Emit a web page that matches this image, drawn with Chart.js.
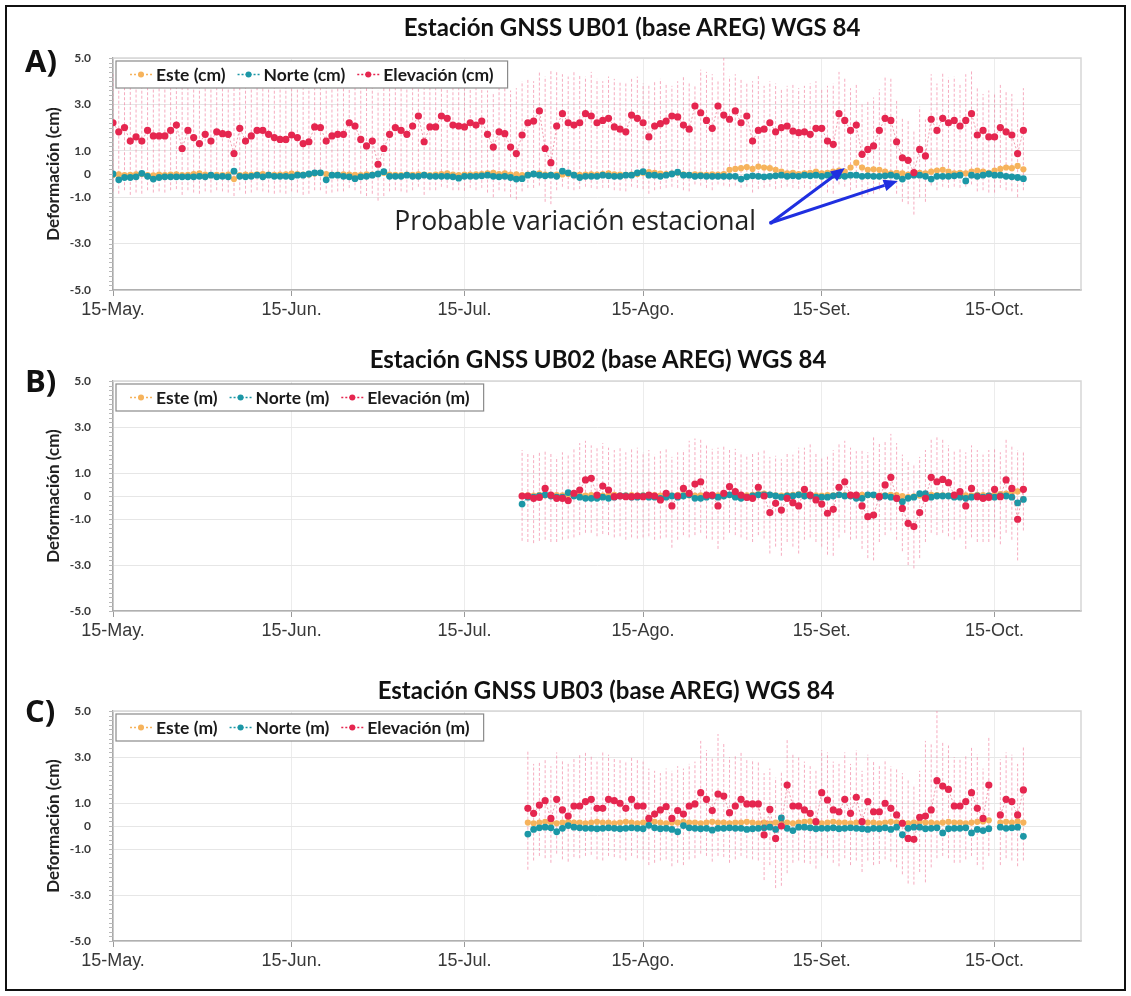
<!DOCTYPE html>
<html>
<head>
<meta charset="utf-8">
<script src="https://cdn.jsdelivr.net/npm/chart.js@4.4.1/dist/chart.umd.min.js"></script>
<style>
  body { margin: 0; background: #fff; }
  #fig { position: relative; width: 1131px; height: 996px; background: #fff; overflow: hidden; }
  #fig canvas { position: absolute; left: 0; }
  #frame { position: absolute; left: 5px; top: 5px; width: 1121px; height: 986px; border: 2px solid #111; box-sizing: border-box; pointer-events: none; }
  .ttl { position: absolute; transform: translateX(-50%); white-space: nowrap; font-family: Lato, sans-serif; font-weight: 700; font-size: 24px; line-height: 1; color: #111; }
  .pl { position: absolute; font-family: "Open Sans", sans-serif; font-weight: 700; font-size: 31px; line-height: 1; color: #111; }
</style>
</head>
<body>
<div id="fig">
  <canvas id="cA" width="1131" height="330" style="top:0px"></canvas>
  <canvas id="cB" width="1131" height="330" style="top:323px"></canvas>
  <canvas id="cC" width="1131" height="330" style="top:653px"></canvas>
  <div class="ttl" style="left:632px;top:15px">Estación GNSS UB01 (base AREG) WGS 84</div>
  <div class="ttl" style="left:598px;top:347px">Estación GNSS UB02 (base AREG) WGS 84</div>
  <div class="ttl" style="left:606px;top:678px">Estación GNSS UB03 (base AREG) WGS 84</div>
  <div class="pl" style="left:25px;top:45px">A)</div>
  <div class="pl" style="left:25px;top:365px">B)</div>
  <div class="pl" style="left:25px;top:695px">C)</div>
  <div id="frame"></div>
</div>
<script>
// x axis = days after 15-May
const tickDays = [0, 31, 61, 92, 123, 153];
const tickLabels = ['15-May.', '15-Jun.', '15-Jul.', '15-Ago.', '15-Set.', '15-Oct.'];
const yTicks = [5, 3, 1, 0, -1, -3, -5];

// ---- UB01 (daily from 15-May) ----
const startA = 0;
const elevA = [
  2.21, 1.82, 2.0, 1.42, 1.6, 1.42, 1.88, 1.64, 1.64, 1.64,
  1.88, 2.11, 1.1, 1.88, 1.57, 1.31, 1.71, 1.42, 1.82, 1.74,
  1.71, 0.88, 1.97, 1.42, 1.64, 1.88, 1.88, 1.71, 1.57, 1.49,
  1.49, 1.68, 1.57, 1.31, 1.39, 2.03, 2.0, 1.42, 1.64, 1.71,
  1.71, 2.21, 2.07, 1.49, 1.21, 1.42, 0.42, 1.1, 1.71, 2.0,
  1.88, 1.71, 2.07, 2.5, 1.39, 2.03, 2.03, 2.5, 2.4, 2.11,
  2.07, 2.03,
  2.21, 2.11, 2.28, 1.71, 1.16, 1.82, 1.74, 1.16, 0.88, 1.68,
  2.21, 2.28, 2.72, 1.1, 0.49, 2.07, 2.6, 2.21, 2.11, 2.21,
  2.6, 2.5, 2.21, 2.31, 2.4, 2.03, 1.93, 1.82, 2.54, 2.4,
  2.21, 1.6, 2.07, 2.17, 2.28, 2.5, 2.46, 2.11, 1.93, 2.93,
  2.64, 2.31, 1.97, 2.93, 2.54, 2.36, 2.72, 2.21, 2.5, 1.42,
  1.88, 1.93, 2.21, 1.82, 2.0, 2.07, 1.85, 1.78, 1.82, 1.71,
  1.97, 1.97, 1.42, 1.28,
  2.6, 2.31, 1.88, 2.11, 0.85, 1.06, 1.21, 1.88, 2.4, 2.31,
  1.39, 0.7, 0.59, 0.06, 1.06, 0.78, 2.36, 1.88, 2.4, 2.21,
  2.31, 2.07, 2.31, 2.6, 1.68, 1.88, 1.6, 1.6, 2.0, 1.82,
  1.68, 0.88, 1.88
];
const elevHiA = [
  4.3, 4.2, 4.4, 4.1, 4.2, 4.3, 4.0, 4.2, 4.4, 4.1,
  4.3, 4.2, 4.0, 4.3, 4.2, 4.1, 4.4, 4.2, 4.3, 4.0,
  4.1, 3.9, 4.3, 4.2, 4.1, 4.4, 4.2, 4.3, 4.0, 4.2,
  4.1, 4.3, 4.2, 4.0, 4.1, 4.4, 4.3, 4.1, 4.2, 4.2,
  4.0, 4.4, 4.3, 4.1, 3.9, 4.0, 3.6, 3.8, 4.2, 4.3,
  4.2, 4.1, 4.3, 4.5, 4.0, 4.3, 4.2, 4.5, 4.4, 4.2,
  4.1, 4.0,
  3.7, 3.8, 3.7, 3.6, 3.5, 3.8, 3.9, 3.6, 3.7, 4.0,
  4.1, 4.0, 4.4, 4.2, 4.5, 4.4, 4.3, 4.2, 4.4, 4.3,
  4.2, 4.4, 4.1, 4.0, 4.2, 4.1, 4.0, 3.9, 4.1, 4.2,
  3.9, 3.8, 4.0, 4.1, 3.9, 3.8, 4.0, 4.2, 3.9, 3.8,
  4.5, 4.4, 4.3, 4.0, 5.0, 4.2, 4.3, 4.1, 3.9, 4.0,
  4.3, 3.8, 4.0, 3.9, 3.7, 3.8, 3.9, 3.7, 3.8, 3.9,
  4.0, 3.7, 3.8, 3.9,
  4.4, 4.15, 3.7, 3.9, 3.0, 3.15, 3.3, 3.65, 4.2, 4.15,
  3.15, 2.4, 2.3, 1.9, 2.9, 2.35, 4.3, 3.9, 4.4, 4.15,
  4.2, 3.9, 4.3, 4.45, 3.7, 3.45, 3.6, 3.45, 3.9, 3.6,
  3.45, 2.85, 3.7
];
const elevLoA = [
  -0.75, -0.85, -0.7, -0.9, -0.8, -0.85, -0.7, -0.8, -0.75, -0.8,
  -0.7, -0.65, -0.9, -0.7, -0.8, -0.85, -0.75, -0.8, -0.7, -0.75,
  -0.8, -0.95, -0.7, -0.85, -0.8, -0.7, -0.75, -0.8, -0.85, -0.8,
  -0.85, -0.75, -0.8, -0.9, -0.85, -0.7, -0.7, -0.85, -0.8, -0.75,
  -0.75, -0.6, -0.7, -0.85, -0.95, -0.85, -1.15, -0.95, -0.75, -0.7,
  -0.75, -0.8, -0.7, -0.55, -0.9, -0.7, -0.7, -0.55, -0.6, -0.7,
  -0.7, -0.72,
  -0.6, -0.7, -0.6, -0.8, -1.0, -0.7, -0.75, -1.0, -1.1, -0.75,
  -0.6, -0.6, -0.5, -1.2, -1.3, -0.7, -0.55, -0.65, -0.7, -0.65,
  -0.55, -0.6, -0.65, -0.6, -0.6, -0.7, -0.72, -0.75, -0.55, -0.6,
  -0.65, -0.85, -0.7, -0.65, -0.6, -0.55, -0.6, -0.7, -0.75, -0.45,
  -0.5, -0.6, -0.7, -0.45, -0.5, -0.55, -0.5, -0.6, -0.55, -0.8,
  -0.65, -0.6, -0.55, -0.65, -0.6, -0.55, -0.6, -0.65, -0.6, -0.65,
  -0.6, -0.6, -0.8, -0.85,
  -0.45, -0.55, -0.7, -0.6, -1.0, -0.9, -0.85, -0.7, -0.5, -0.55,
  -0.85, -1.2, -1.3, -1.75, -1.0, -1.2, -0.5, -0.7, -0.55, -0.6,
  -0.55, -0.6, -0.55, -0.45, -0.75, -0.7, -0.8, -0.8, -0.6, -0.7,
  -0.75, -1.0, -0.7
];
const norteA = [
  0.0, -0.25, -0.15, -0.15, -0.12, 0.03, -0.1, -0.22, -0.15, -0.12,
  -0.12, -0.12, -0.12, -0.12, -0.12, -0.1, -0.12, -0.05, -0.12, -0.1,
  -0.12, 0.12, -0.1, -0.12, -0.1, -0.05, -0.12, -0.05, -0.1, -0.1,
  -0.1, -0.12, -0.05, -0.05, 0.0, 0.05, 0.05, -0.25, -0.05, -0.05,
  -0.1, -0.12, -0.2, -0.12, -0.1, -0.05, 0.0, 0.1, -0.1, -0.1,
  -0.1, -0.05, -0.1, -0.1, -0.05, -0.1, -0.1, -0.1, -0.1, -0.12,
  -0.18, -0.1,
  -0.1, -0.1, -0.08, -0.05, -0.1, -0.12, -0.1, -0.15, -0.22, -0.2,
  -0.05, 0.0, -0.05, -0.08, -0.05, -0.1, 0.12, 0.05, -0.05, -0.15,
  -0.1, -0.1, -0.1, -0.05, -0.08, -0.1, -0.1, -0.05, -0.05, 0.05,
  0.1, -0.05, -0.05, -0.1, -0.05, 0.0, 0.08, -0.05, -0.05, -0.1,
  -0.08, -0.1, -0.1, -0.1, -0.1, -0.1, -0.1, -0.22, -0.12, -0.08,
  -0.1, -0.12, -0.1, -0.08, -0.05, -0.1, -0.08, -0.1, -0.05, -0.08,
  -0.05, -0.1, -0.05, -0.05,
  -0.08, -0.1, -0.05, -0.05, -0.1, -0.08, -0.1, -0.1, -0.08, -0.05,
  -0.1, -0.22, -0.1, -0.05, -0.05, -0.1, -0.22, -0.1, -0.1, -0.1,
  -0.08, -0.05, -0.3, -0.05, -0.1, -0.05, 0.0, -0.05, -0.05, -0.1,
  -0.12, -0.15, -0.2
];
const esteA = [
  -0.04, -0.02, -0.05, -0.04, -0.02, 0.0, -0.05, -0.06, -0.03, -0.05,
  -0.03, -0.02, -0.05, -0.04, 0.0, 0.03, -0.03, -0.05, -0.04, -0.05,
  -0.03, -0.22,
  -0.05, -0.03, -0.04, -0.02, 0.0, -0.03, -0.04, -0.03, -0.02, 0.02,
  0.0, -0.03, -0.02, 0.02, 0.05, 0.0, -0.04, -0.03, -0.02,
  -0.03, -0.04, -0.05, -0.02, -0.03, 0.0, 0.05, -0.03, -0.04, -0.05,
  -0.03, -0.04, -0.02, -0.03, -0.05, -0.03, 0.0, 0.03, -0.03, -0.05, -0.03,
  -0.03, -0.02, 0.0, 0.03, 0.05, 0.0, 0.03, -0.03, -0.02, -0.05,
  -0.03, 0.0, 0.03, -0.03, -0.04, -0.03, -0.02, 0.0, -0.03, -0.04,
  -0.03, -0.02, -0.03, 0.0, 0.03, -0.02, -0.03, -0.04, -0.03, 0.0,
  0.05, 0.08, 0.05, 0.02, 0.0, 0.02, 0.05, -0.02, -0.04, -0.02,
  -0.03, -0.04, -0.02, -0.03, 0.0,
  0.18, 0.22, 0.25, 0.3, 0.22, 0.32, 0.28, 0.25, 0.18, 0.1,
  0.03, 0.05, 0.0, 0.03, 0.05, 0.1, 0.03, 0.05, 0.1,
  0.15, 0.1, 0.28, 0.49, 0.28, 0.18, 0.2, 0.18, 0.1, 0.03,
  0.05, 0.03, -0.03, 0.0, 0.05, 0.03, 0.1, 0.15, 0.18, 0.1,
  0.03, 0.05, 0.03, 0.1, 0.15, 0.1, 0.05, 0.15, 0.22, 0.28,
  0.25, 0.35, 0.2
];

// ---- UB02 (daily from 24-Jul) ----
const startB = 71;
const elevB = [
  0, 0, -0.1, -0.06, 0.33, 0.04, -0.1, -0.1, -0.2, 0.12,
  0.26, 0.7, 0.77, 0.04, 0.43, 0.26, -0.03, 0, -0.03, -0.03,
  0, -0.03, 0.04, 0, -0.17, 0.12, -0.43, 0, 0.33, 0.12,
  0.52, 0.62, 0.04, 0.04, -0.43, 0.12, 0.41, 0.19, 0.04, -0.06,
  -0.1, 0.38, 0, -0.72, -0.32, -0.61, -0.1, -0.29, -0.43, 0.29,
  0.04, -0.17, -0.35, -0.75, -0.58, 0.38, 0.62, 0.04, 0.04, -0.43,
  -0.9, -0.83, -0.03, 0.48, 0.81, -0.1, -0.54, -1.19, -1.33, -0.72,
  -0.1, 0.81, 0.62, 0.72, 0.58, 0.04, 0.19, -0.43, 0.33, -0.03,
  -0.1, -0.06, 0.29, -0.03, 0.7, 0.33, -1.01, 0.29
];
const elevHiB = [
  2.0, 1.9, 1.8, 1.95, 2.0, 1.85, 1.7, 1.9, 1.8, 2.1,
  2.3, 2.4, 2.2, 2.15, 2.3, 2.1, 2.0, 2.1, 1.9, 2.05,
  2.1, 1.9, 2.0, 1.8, 1.95, 2.1, 1.7, 1.9, 2.0, 2.4,
  2.5, 2.5, 2.2, 2.05, 2.1, 2.2, 2.0, 2.05, 1.9, 1.8,
  1.85, 1.9, 2.0, 1.7, 1.75, 1.6, 1.9, 1.8, 2.1, 2.1,
  2.25, 1.9, 1.7, 1.8, 2.0, 2.3, 2.4, 2.1, 1.95, 2.0,
  1.9, 2.6, 2.3, 2.4, 2.7, 2.3, 1.8, 1.5, 1.4, 1.7,
  2.0, 2.5, 2.55, 2.45, 2.2, 2.0, 2.1, 1.9, 2.2, 2.0,
  1.8, 2.0, 2.1, 1.9, 2.5, 2.2, 2.0, 1.9
];
const elevLoB = [
  -1.95, -2.0, -2.05, -1.95, -1.9, -2.0, -2.0, -1.9, -1.85, -1.8,
  -1.7, -1.6, -1.6, -1.75, -1.65, -1.7, -1.8, -1.75, -1.9, -1.8,
  -1.85, -1.8, -1.75, -1.9, -1.85, -1.8, -2.25, -1.9, -1.7, -1.8,
  -1.7, -1.6, -1.85, -1.9, -2.3, -1.9, -1.6, -1.7, -1.8, -1.9,
  -2.0, -1.7, -1.85, -2.5, -2.2, -2.6, -2.0, -2.2, -2.5, -1.9,
  -1.8, -2.0, -2.2, -2.55, -2.6, -1.8, -1.6, -1.9, -1.85, -2.3,
  -2.7, -2.8, -2.0, -1.7, -1.5, -1.9, -2.4, -3.0, -3.15, -2.7,
  -2.0, -1.6, -1.7, -1.6, -1.75, -1.9, -1.8, -2.3, -1.8, -2.0,
  -2.0, -2.0, -1.8, -2.1, -1.6, -1.9, -2.8, -1.5
];
const norteB = [
  -0.35, -0.05, -0.05, 0.0, 0.05, 0.0, -0.05, -0.05, 0.15, 0.0,
  -0.05, -0.1, -0.1, -0.1, -0.05, -0.1, -0.05, 0.0, 0.0, -0.05,
  -0.05, 0.0, -0.05, -0.05, -0.1, -0.05, 0.0, -0.05, 0.0, 0.05,
  -0.1, -0.1, -0.05, 0.0, -0.05, 0.0, 0.05, -0.05, -0.1, -0.05,
  0.0, 0.05, 0.05, 0.05, 0.0, -0.05, 0.0, 0.0, 0.05, 0.0,
  0.0, -0.05, -0.05, -0.05, 0.0, 0.05, 0.0, 0.0, -0.1, -0.1,
  0.05, 0.05, -0.05, 0.0, -0.05, -0.1, -0.25, -0.1, -0.05, 0.1,
  0.1, -0.05, 0.0, 0.0, 0.0, -0.05, -0.05, -0.1, -0.05, 0.0,
  -0.05, 0.0, -0.05, 0.0, 0.0, -0.05, -0.3, -0.15
];
const esteB = [
  0.02, 0.03, 0.02, 0.05, 0.03, 0.02, 0.04, 0.03, 0.05, 0.02,
  0.03, 0.02, 0.04, 0.03, 0.02, 0.03, 0.05, 0.02, 0.03, 0.04,
  0.02, 0.03, 0.05, 0.04, 0.02, 0.03, 0.02, 0.04, 0.05, 0.03,
  0.02, 0.03, 0.04, 0.02, 0.03, 0.05, 0.04, 0.03, 0.02, 0.03,
  0.05, 0.08, 0.1, 0.05, 0.03, 0.02, 0.04, 0.05, 0.08, 0.1,
  0.05, 0.03, 0.02, 0.04, 0.03, 0.05, 0.04, 0.02, 0.03, 0.05,
  0.04, 0.03, 0.02, 0.03, 0.05, 0.04, 0.0, -0.05, -0.02, 0.02,
  0.03, 0.05, 0.04, 0.03, 0.02, 0.04, 0.05, 0.03, 0.02, 0.05,
  0.04, 0.03, 0.05, 0.08, 0.1, 0.15, 0.2, 0.3
];

// ---- UB03 (daily from 25-Jul, one missing day) ----
const startC = 72;
const elevC = [
  0.77, 0.55, 0.91, 1.1, 0.33, 1.16, 0.7, 0.43, 0.87, 0.87,
  1.06, 1.16, 0.77, 0.77, 1.16, 1.1, 0.99, 0.77, 1.16, 0.87,
  0.87, 0.33, 0.52, 0.7, 0.84, 0.33, 0.67, 0.52, 0.87, 0.96,
  1.45, 1.16, 0.67, 1.39, 1.3, 0.58, 0.87, 1.16, 0.96, 0.96,
  0.96, -0.39, 0.72, -0.54, 0.0, 1.78, 0.87, 0.87, 0.7, 0.55,
  0.19, 1.45, 1.13, 0.7, 0.62, 1.16, 0.55, 1.25, 0.19, 1.06,
  0.62, 0.62, 0.99, 0.77, 0.48, 0.12, -0.54, -0.58, 0.38, 0.43,
  0.7, 1.97, 1.74, 1.59, 0.87, 0.87, 1.06, 1.45, 0.77, 0.33,
  1.78, null, 0.48, 1.16, 1.06, 0.48, 1.57
];
const elevHiC = [
  3.3, 2.7, 2.8, 2.9, 2.6, 3.2, 2.9, 2.7, 3.0, 3.1,
  3.2, 3.1, 2.8, 3.2, 3.1, 3.0, 2.9, 2.8, 3.0, 2.9,
  2.8, 2.5, 2.4, 2.3, 2.5, 2.4, 2.6, 2.5, 2.7, 2.8,
  3.7, 3.3, 3.0, 4.0, 3.6, 3.0, 3.1, 3.2, 2.9, 2.9,
  2.8, 2.3, 2.5, 2.1, 2.4, 3.8, 3.1, 3.0, 2.8, 2.6,
  2.4, 3.3, 3.2, 2.8, 2.7, 3.2, 2.7, 3.3, 2.4, 3.1,
  2.8, 2.6, 2.9, 2.6, 2.5, 2.3, 2.0, 1.8, 2.4, 3.7,
  3.6, 5.0, 3.7, 3.5, 3.0, 2.9, 3.1, 3.4, 3.1, 2.5,
  3.9, null, 2.9, 3.2, 3.1, 2.7, 3.5
];
const elevLoC = [
  -1.9, -1.5, -1.3, -1.4, -1.6, -1.2, -1.45, -1.55, -1.35, -1.4,
  -1.3, -1.25, -1.45, -1.5, -1.3, -1.35, -1.4, -1.5, -1.3, -1.4,
  -1.45, -1.7, -1.6, -1.5, -1.45, -1.75, -1.6, -1.7, -1.45, -1.4,
  -1.2, -1.3, -1.55, -1.3, -1.35, -1.6, -1.45, -1.3, -1.4, -1.45,
  -1.5, -2.35, -1.7, -2.7, -2.6, -2.05, -1.6, -1.5, -1.6, -1.65,
  -1.85, -1.3, -1.4, -1.6, -1.75, -1.4, -1.7, -1.5, -2.0, -1.5,
  -1.7, -1.65, -1.45, -1.55, -1.8, -2.1, -2.5, -2.55, -2.0, -2.45,
  -1.8, -1.4, -1.3, -1.4, -1.6, -1.6, -1.45, -1.3, -1.7, -1.9,
  -1.3, null, -1.7, -1.4, -1.5, -1.75, -1.5
];
const norteC = [
  -0.35, -0.15, -0.08, -0.05, -0.08, -0.25, -0.1, 0.02, -0.05, -0.08,
  -0.1, -0.1, -0.12, -0.1, -0.08, -0.1, -0.12, -0.1, -0.08, -0.1,
  -0.12, 0.03, -0.08, -0.12, -0.1, -0.15, -0.25, 0.02, -0.08, -0.1,
  -0.12, -0.1, -0.18, -0.1, -0.1, -0.08, -0.1, -0.1, -0.15, -0.12,
  -0.1, -0.08, -0.05, -0.15, 0.35, -0.1, -0.2, -0.05, -0.05, -0.08,
  -0.12, -0.1, -0.1, -0.08, -0.12, -0.1, -0.08, -0.1, -0.12, -0.15,
  -0.1, -0.12, -0.08, -0.15, -0.05, -0.38, -0.1, -0.05, -0.05, -0.12,
  -0.1, -0.08, -0.3, -0.12, -0.1, -0.1, -0.08, -0.3, -0.15, -0.2,
  -0.12, null, -0.05, -0.1, -0.08, -0.05, -0.45
];
const esteC = [
  0.15, 0.12, 0.15, 0.18, 0.15, 0.12, 0.15, 0.18, 0.15, 0.15,
  0.12, 0.15, 0.18, 0.15, 0.15, 0.12, 0.15, 0.18, 0.15, 0.12,
  0.15, 0.15, 0.18, 0.15, 0.12, 0.15, 0.15, 0.18, 0.15, 0.15,
  0.12, 0.15, 0.18, 0.15, 0.15, 0.12, 0.15, 0.15, 0.18, 0.15,
  0.12, 0.15, 0.1, 0.15, 0.18, 0.15, 0.12, 0.15, 0.18, 0.2,
  0.15, 0.12, 0.15, 0.18, 0.15, 0.15, 0.12, 0.15, 0.18, 0.15,
  0.15, 0.12, 0.15, 0.18, 0.15, 0.15, 0.12, 0.15, 0.18, 0.15,
  0.15, 0.12, 0.15, 0.18, 0.15, 0.15, 0.12, 0.15, 0.18, 0.2,
  0.25, null, 0.15, 0.18, 0.15, 0.2, 0.15
];

// annotation on UB01 (data coordinates)
const noteText = 'Probable variación estacional';
const noteAt = [111.6, -2.1];
const arrowTail = [114.2, -2.1];
const arrowTips = [[127, 0.26], [136.2, -0.3]];

const colEste = '#f6b35c';
const colNorte = '#1c97a6';
const colElev = '#e5264f';

function pts(start, vals) {
  return vals.map((v, i) => ({ x: start + i, y: v }));
}

function bars(start, lo, hi) {
  const out = [];
  lo.forEach((v, i) => {
    if (v == null) return;
    out.push({ x: start + i, y: v }, { x: start + i, y: hi[i] }, { x: start + i, y: null });
  });
  return out;
}

function series(label, color, lineColor, data, radius, order) {
  return {
    label, data, order,
    borderColor: lineColor,
    borderWidth: 1,
    borderDash: [2, 2],
    pointRadius: radius,
    pointBackgroundColor: color,
    pointBorderWidth: 0,
    legendColor: color,
    spanGaps: false
  };
}

function drawLegend(chart) {
  const { ctx, chartArea: a } = chart;
  const items = chart.data.datasets.filter(d => d.label);
  ctx.save();
  ctx.font = 'bold 17.5px Lato';
  const widths = items.map(d => ctx.measureText(d.label).width);
  const boxW = 14 + widths.reduce((s, w) => s + 22 + 4 + w + 12, 0) + 2;
  const bx = a.left + 3, by = a.top + 3, bh = 27;
  ctx.fillStyle = '#fff';
  ctx.fillRect(bx, by, boxW, bh);
  ctx.strokeStyle = '#8a8a8a';
  ctx.lineWidth = 1.2;
  ctx.strokeRect(bx, by, boxW, bh);
  let x = bx + 14;
  const cy = by + bh / 2;
  items.forEach((d, i) => {
    ctx.setLineDash([2, 2]);
    ctx.strokeStyle = d.legendColor;
    ctx.lineWidth = 1.5;
    ctx.beginPath();
    ctx.moveTo(x, cy);
    ctx.lineTo(x + 22, cy);
    ctx.stroke();
    ctx.setLineDash([]);
    ctx.fillStyle = d.legendColor;
    ctx.beginPath();
    ctx.arc(x + 11, cy, 3, 0, Math.PI * 2);
    ctx.fill();
    ctx.fillStyle = '#1a1a1a';
    ctx.textBaseline = 'middle';
    ctx.fillText(d.label, x + 26, cy + 1);
    x += 26 + widths[i] + 12;
  });
  ctx.restore();
}

function drawNote(chart) {
  const { ctx, scales: { x, y } } = chart;
  ctx.save();
  ctx.font = '26.5px "Open Sans"';
  ctx.fillStyle = '#222';
  ctx.textAlign = 'right';
  ctx.textBaseline = 'middle';
  ctx.fillText(noteText, x.getPixelForValue(noteAt[0]), y.getPixelForValue(noteAt[1]));
  const tx = x.getPixelForValue(arrowTail[0]), ty = y.getPixelForValue(arrowTail[1]);
  ctx.strokeStyle = '#1f2fe0';
  ctx.fillStyle = '#1f2fe0';
  ctx.lineWidth = 3;
  arrowTips.forEach(([dx, dy]) => {
    const hx = x.getPixelForValue(dx), hy = y.getPixelForValue(dy);
    const ang = Math.atan2(hy - ty, hx - tx);
    const len = 14, half = 6;
    const bxp = hx - len * Math.cos(ang), byp = hy - len * Math.sin(ang);
    ctx.beginPath();
    ctx.moveTo(tx, ty);
    ctx.lineTo(bxp, byp);
    ctx.stroke();
    ctx.beginPath();
    ctx.moveTo(hx, hy);
    ctx.lineTo(bxp + half * Math.sin(ang), byp - half * Math.cos(ang));
    ctx.lineTo(bxp - half * Math.sin(ang), byp + half * Math.cos(ang));
    ctx.closePath();
    ctx.fill();
  });
  ctx.beginPath();
  ctx.arc(tx, ty, 2, 0, Math.PI * 2);
  ctx.fill();
  ctx.restore();
}

const decoPlugin = {
  id: 'deco',
  beforeDatasetsDraw(chart) {
    const { ctx, chartArea: a, scales: { y } } = chart;
    ctx.save();
    ctx.strokeStyle = '#d6d6d6';
    ctx.lineWidth = 1.5;
    ctx.beginPath();
    ctx.moveTo(a.left, a.top);
    ctx.lineTo(a.right, a.top);
    ctx.lineTo(a.right, a.bottom);
    ctx.stroke();
    ctx.strokeStyle = '#b8b8b8';
    ctx.lineWidth = 1;
    for (let i = -25; i <= 25; i++) {
      const py = Math.round(y.getPixelForValue(i / 5)) + 0.5;
      ctx.beginPath();
      ctx.moveTo(a.left - 4, py);
      ctx.lineTo(a.left, py);
      ctx.stroke();
    }
    ctx.restore();
  },
  afterDatasetsDraw(chart, args, opts) {
    drawLegend(chart);
    if (opts.note) drawNote(chart);
  }
};

function makePanel(id, unit, start, este, norte, elev, lo, hi, xh, note) {
  new Chart(document.getElementById(id), {
    type: 'line',
    data: {
      datasets: [
        series('Este (' + unit + ')', colEste, 'rgba(246,179,92,0.6)', pts(start, este), 3.1, 3),
        series('Norte (' + unit + ')', colNorte, 'rgba(28,151,166,0.5)', pts(start, norte), 3.4, 2),
        series('Elevación (' + unit + ')', colElev, 'rgba(229,38,79,0.45)', pts(start, elev), 3.6, 1),
        {
          label: '', data: bars(start, lo, hi), order: 4,
          borderColor: 'rgba(242,132,162,0.68)', borderWidth: 1, borderDash: [3, 2],
          pointRadius: 0, spanGaps: false
        }
      ]
    },
    options: {
      responsive: false,
      animation: false,
      layout: { padding: { top: 58, right: 50, left: 0, bottom: 0 } },
      plugins: { legend: { display: false }, tooltip: { enabled: false }, deco: { note } },
      scales: {
        x: {
          type: 'linear', min: 0, max: 168,
          afterBuildTicks: s => { s.ticks = tickDays.map(v => ({ value: v })); },
          afterFit: s => { s.height = xh; },
          ticks: {
            callback: v => tickLabels[tickDays.indexOf(v)] ?? '',
            font: { family: 'Liberation Sans', size: 18 },
            color: '#383838', maxRotation: 0, autoSkip: false, padding: 3
          },
          grid: { color: '#ececec', tickColor: '#9a9a9a', tickLength: 6 },
          border: { color: '#b0b0b0', width: 1.5 }
        },
        y: {
          min: -5, max: 5,
          afterBuildTicks: s => { s.ticks = yTicks.map(v => ({ value: v })); },
          afterFit: s => { s.width = 113; },
          ticks: {
            callback: v => (v === 0 ? '0' : v.toFixed(1)),
            font: { family: 'Lato', weight: 'bold', size: 12 },
            color: '#3a3a3a', padding: 22
          },
          grid: { color: '#e6e6e6', drawTicks: false },
          border: { color: '#a8a8a8', width: 1.5 },
          title: {
            display: true, text: 'Deformación (cm)',
            font: { family: 'Lato', weight: 'bold', size: 17 },
            color: '#222', padding: { top: 43, bottom: 0 }
          }
        }
      }
    },
    plugins: [decoPlugin]
  });
}

makePanel('cA', 'cm', startA, esteA, norteA, elevA, elevLoA, elevHiA, 40, true);
makePanel('cB', 'm', startB, esteB, norteB, elevB, elevLoB, elevHiB, 42, false);
makePanel('cC', 'm', startC, esteC, norteC, elevC, elevLoC, elevHiC, 42, false);
</script>
</body>
</html>
